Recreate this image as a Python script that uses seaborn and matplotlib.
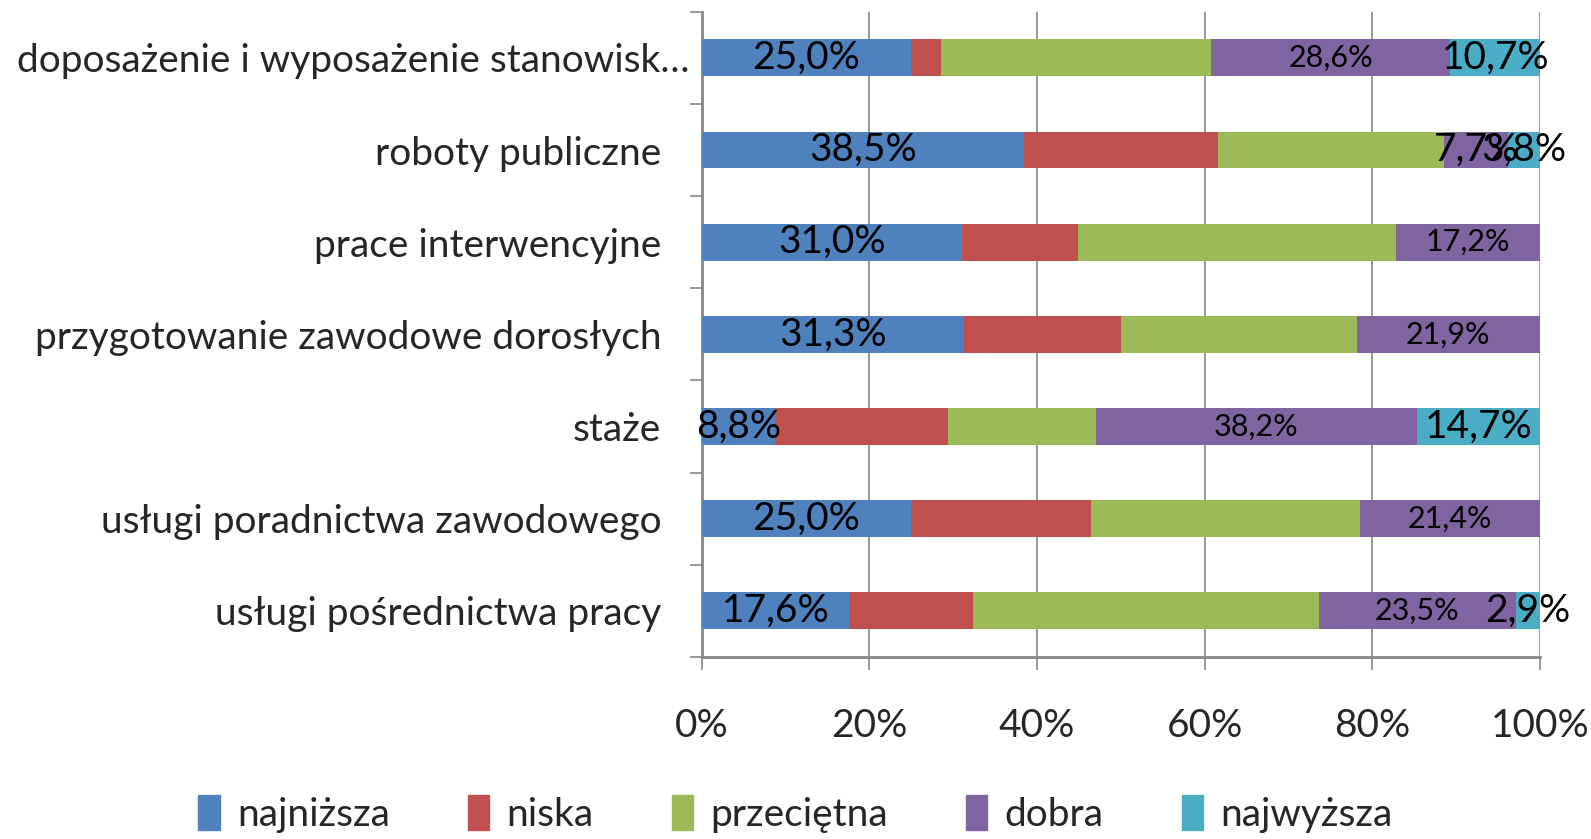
"""Stacked 100% bar chart: ocena form aktywizacji."""

import matplotlib
matplotlib.use("Agg")
import matplotlib.pyplot as plt
import matplotlib.patches as mpatches
from matplotlib.transforms import ScaledTranslation
import numpy as np
import pandas as pd
import seaborn as sns

# ── Data ──
categories = [
    "doposażenie i wyposażenie stanowisk…",
    "roboty publiczne",
    "prace interwencyjne",
    "przygotowanie zawodowe dorosłych",
    "staże",
    "usługi poradnictwa zawodowego",
    "usługi pośrednictwa pracy",
]
levels = ["najniższa", "niska", "przeciętna", "dobra", "najwyższa"]

najnizsza = [25.0, 38.5, 31.0, 31.3, 8.8, 25.0, 17.6]
niska = [3.6, 23.1, 13.8, 18.8, 20.6, 21.4, 14.7]
przecietna = [32.1, 26.9, 37.9, 28.1, 17.6, 32.1, 41.2]
dobra = [28.6, 7.7, 17.2, 21.9, 38.2, 21.4, 23.5]
najwyzsza = [10.7, 3.8, 0.0, 0.0, 14.7, 0.0, 2.9]

# labelled series only (Excel chart shows these)
labelled = ["najniższa", "dobra", "najwyższa"]

COLORS = {
    "najniższa": "#4F81BD", "niska": "#C0504D", "przeciętna": "#9BBB59",
    "dobra": "#8064A2", "najwyższa": "#4BACC6",
}
GRID = "#868686"
FS = 28

# ── Build table ──
df = pd.DataFrame(
    {"najniższa": najnizsza, "niska": niska, "przeciętna": przecietna,
     "dobra": dobra, "najwyższa": najwyzsza},
    index=categories,
)
df = df.div(df.sum(axis=1), axis=0) * 100  # 100% stacked
cum = df.cumsum(axis=1)

sns.set_style("white")
plt.rcParams["font.family"] = ["Lato", "DejaVu Sans"]

fig = plt.figure(figsize=(15.91, 8.39), dpi=100)
ax = fig.add_axes([0.441, 0.217, 0.527, 0.769])

# draw cumulative bars from the last level to the first so they stack
for lev in reversed(levels):
    plot_df = pd.DataFrame({"cat": categories, "val": cum[lev].values})
    sns.barplot(data=plot_df, x="val", y="cat", color=COLORS[lev],
                orient="h", width=0.4, saturation=1, ax=ax, zorder=3,
                linewidth=0)

# data labels
for i, cat in enumerate(categories):
    for lev in labelled:
        v = df.loc[cat, lev]
        if v <= 0:
            continue
        center = cum.loc[cat, lev] - v / 2
        size = 22 if (lev == "dobra" and v > 15) else FS
        ax.text(center, i, f"{v:.1f}%".replace(".", ","), ha="center",
                va="center", fontsize=size, color="black", zorder=5)

ax.set_xlim(0, 100)
ax.set_ylim(len(categories) - 0.5, -0.5)
ax.set_xticks(np.arange(0, 101, 20))
ax.set_xticklabels([f"{t}%" for t in range(0, 101, 20)], fontsize=FS)
ax.set_xlabel("")
ax.set_ylabel("")
ax.xaxis.grid(True, color=GRID, linewidth=1.2, zorder=0)
ax.yaxis.grid(False)

ax.set_yticks(range(len(categories)))
ax.set_yticklabels(categories, fontsize=FS)
ax.set_yticks(np.arange(-0.5, len(categories)), minor=True)
ax.tick_params(axis="y", which="major", length=0, pad=29)
ax.tick_params(axis="y", which="minor", length=9, width=1.2, color=GRID,
               direction="out", left=True)
ax.tick_params(axis="x", which="major", length=9, width=1.2, color=GRID,
               direction="out", bottom=True, pad=28)

for side in ["top", "right"]:
    ax.spines[side].set_visible(False)
for side in ["left", "bottom"]:
    ax.spines[side].set_color(GRID)
    ax.spines[side].set_linewidth(2)

# the truncated first label sits closer to the axis
first = ax.get_yticklabels()[0]
first.set_transform(first.get_transform()
                    + ScaledTranslation(0.28, 0, fig.dpi_scale_trans))

handles = [mpatches.Patch(color=COLORS[l], label=l) for l in levels]
fig.legend(handles=handles, loc="center", bbox_to_anchor=(0.5, 0.03),
           ncol=5, frameon=False, fontsize=FS, handlelength=0.55,
           handleheight=1.0, handletextpad=0.45, columnspacing=2.0)

fig.savefig("out.png", dpi=100)
plt.close(fig)
